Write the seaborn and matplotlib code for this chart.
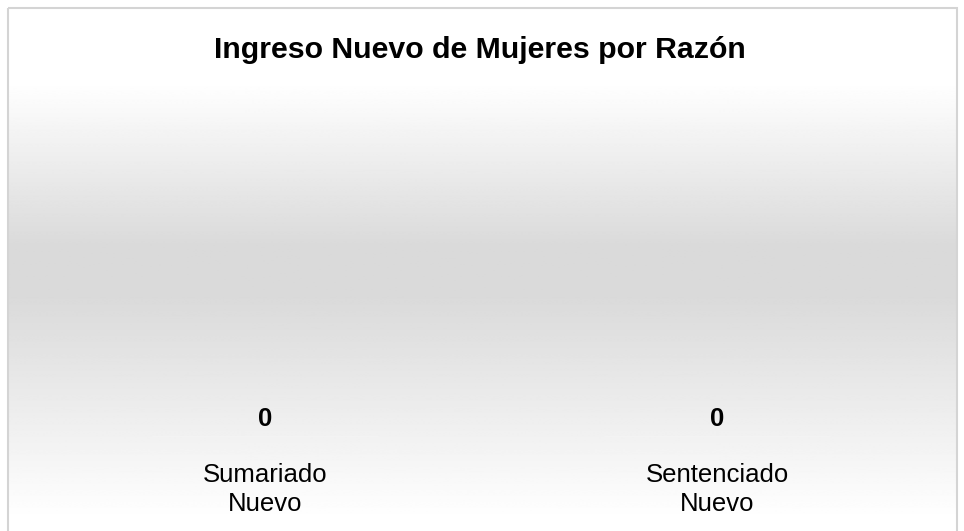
import numpy as np
import matplotlib
matplotlib.use('Agg')
import matplotlib.pyplot as plt
import seaborn as sns
from matplotlib.patches import Rectangle

categories = ['Sumariado\nNuevo', 'Sentenciado\nNuevo']
values = [0, 0]

sns.set_style('white')
plt.rcParams['font.family'] = ['Liberation Sans', 'DejaVu Sans']
plt.rcParams['text.color'] = 'black'
plt.rcParams['xtick.color'] = 'black'

fig = plt.figure(figsize=(9.64, 5.31), dpi=100)

# background: white -> gray -> white gradient, with thin border
bg = fig.add_axes([0, 0, 1, 1])
bg.set_xlim(0, 964)
bg.set_ylim(531, 0)
bg.axis('off')
ys = np.linspace(0, 531, 532)
shade = np.interp(ys, [0, 75, 240, 295, 520, 531], [1.0, 1.0, 0.855, 0.855, 1.0, 1.0])
grad = np.repeat(shade[:, None], 2, axis=1)
bg.imshow(grad, cmap='gray', vmin=0, vmax=1, aspect='auto',
          extent=(8, 957, 531, 8), interpolation='bilinear')
bg.add_patch(Rectangle((8, 8), 949, 530, fill=False, edgecolor='#d4d4d4', lw=1.5))

ax = fig.add_axes([0, 94 / 531, 1, 0.65])
ax.patch.set_alpha(0)
sns.barplot(x=categories, y=values, ax=ax, color='#4f81bd', width=0.5)
ax.set_ylim(0, 1)
ax.set_xlim(-0.586, 1.546)
for c in ax.containers:
    ax.bar_label(c, fmt='%d', fontsize=18.5, fontweight='bold', padding=4, color='black')
ax.set_yticks([])
ax.tick_params(axis='x', length=0, pad=19, labelsize=18.5)
for lbl in ax.get_xticklabels():
    lbl.set_linespacing(1.25)
sns.despine(ax=ax, left=True, bottom=True)
ax.set_xlabel('')
ax.set_ylabel('')

fig.text(0.498, 1 - 50 / 531, 'Ingreso Nuevo de Mujeres por Razón',
         ha='center', va='center', fontsize=21.8, fontweight='bold', color='black')

fig.savefig('out.png', dpi=100)
